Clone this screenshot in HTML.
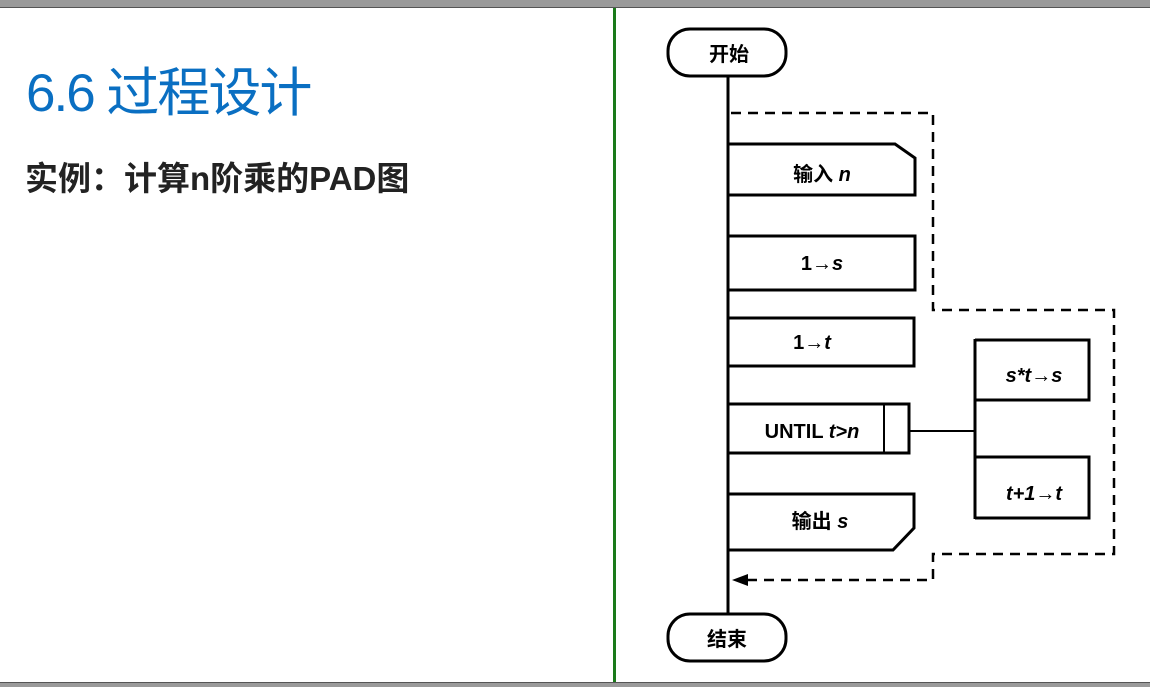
<!DOCTYPE html>
<html><head><meta charset="utf-8"><style>
body{margin:0;width:1150px;height:686px;background:#fff;position:relative;overflow:hidden;font-family:"Liberation Sans","Noto Sans CJK SC",sans-serif}
.t1{position:absolute;left:26px;top:67px;font-size:53px;color:#0a6fc2;line-height:1;white-space:nowrap;letter-spacing:-2px}
.t2{position:absolute;left:25px;top:162px;font-size:33px;font-weight:bold;color:#222;line-height:1;white-space:nowrap}
</style></head><body>
<div style="position:absolute;left:0;top:0;width:1150px;height:7px;background:#9a9a9a;border-bottom:1px solid #555"></div>
<div style="position:absolute;left:0;top:682px;width:1150px;height:4px;background:#9a9a9a;border-top:1px solid #555"></div>
<div style="position:absolute;left:613px;top:8px;width:3px;height:674px;background:#1a7a1a"></div>
<div class="t1">6.6 过程设计</div>
<div class="t2">实例：计算n阶乘的PAD图</div>
<svg width="1150" height="686" style="position:absolute;left:0;top:0" font-family="Liberation Sans,Noto Sans CJK SC,sans-serif" font-weight="bold">
<g fill="none" stroke="#000" stroke-width="3">
<rect x="668" y="29" width="118" height="47" rx="22"/>
<rect x="668" y="614" width="118" height="47" rx="22"/>
<line x1="728" y1="76" x2="728" y2="614"/>
<path d="M729 144 H895 L915 158 V195 H729"/>
<path d="M729 236 H915 V290 H729"/>
<path d="M729 318 H914 V366 H729"/>
<path d="M729 404 H909 V453 H729"/>
<line x1="884" y1="405" x2="884" y2="452" stroke-width="2"/>
<path d="M729 494 H914 V528 L893 550 H729"/>
<line x1="909" y1="431" x2="975" y2="431" stroke-width="2"/>
<line x1="975" y1="339" x2="975" y2="519"/>
<path d="M975 340 H1089 V400 H975"/>
<path d="M975 457 H1089 V518 H975"/>
</g>
<g fill="none" stroke="#000" stroke-width="2.5" stroke-dasharray="10 7">
<path d="M731 113 H933 V310 H1114 V554 H933 V580 H745"/>
</g>
<path d="M732 580 L748 574 L748 586 Z" fill="#000"/>
<g font-size="20" text-anchor="middle" fill="#000">
<text x="729" y="61">开始</text>
<text x="727" y="646">结束</text>
<text x="822" y="181">输入 <tspan font-style="italic">n</tspan></text>
<text x="822" y="270">1→<tspan font-style="italic">s</tspan></text>
<text x="812" y="349">1→<tspan font-style="italic">t</tspan></text>
<text x="812" y="438">UNTIL <tspan font-style="italic">t&gt;n</tspan></text>
<text x="820" y="528">输出 <tspan font-style="italic">s</tspan></text>
<text x="1034" y="382" font-style="italic">s*t→s</text>
<text x="1034" y="500" font-style="italic">t+1→t</text>
</g>
</svg>
</body></html>
